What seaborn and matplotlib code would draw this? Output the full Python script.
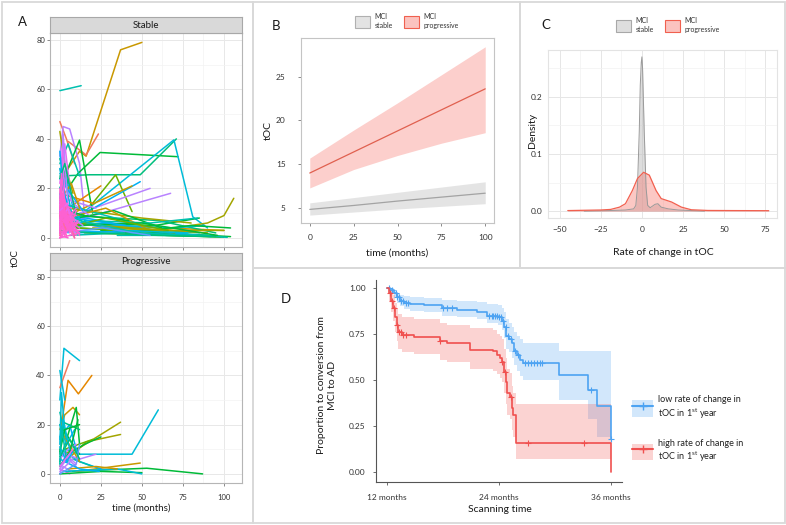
import numpy as np
import pandas as pd
import matplotlib.pyplot as plt
import seaborn as sns
from matplotlib.patches import Patch, Rectangle
from matplotlib.lines import Line2D

# ---------------- Panel A: individual tOC trajectories ----------------
# (time in months, tOC, colour key) per subject
stable_time = [
    [0, 13], [2, 12, 16, 37, 50], [0, 4, 9], [5, 16, 23.5], [0, 2, 6, 12, 15],
    [0, 3, 8], [5, 11, 24.5, 72], [0, 18, 49, 71], [3, 12, 69.5, 81, 90], [20, 34, 44],
    [60, 90, 100, 106], [10, 67.5], [12, 55], [10, 49], [5, 25],
    [8, 44], [0, 12, 20], [0, 5, 12], [0, 4, 8, 14], [0, 3, 7],
    [12, 58, 85], [20, 85], [5, 90], [10, 104], [15, 98],
    [30, 100], [8, 60, 95], [2, 70, 88], [0, 40, 75], [5, 50, 80],
    [3, 33, 62], [0, 45], [0, 20], [4, 28, 52], [0, 8, 18],
    [0, 30, 58], [25, 65, 100], [10, 55, 92], [6, 38, 82], [0, 24, 70],
    [0, 15, 42], [0, 10, 30], [2, 22], [0, 6], [0, 14],
    [0, 5], [35, 88, 102], [0, 7, 12], [0, 12, 35], [0, 2],
    [0, 3, 8], [0, 5], [40, 80, 104], [20, 70, 100], [15, 55, 84],
    [0, 2, 5], [0, 1.5, 4],
    [0, 20, 60, 95], [5, 45, 90], [0, 35, 78], [10, 50, 96], [0, 18, 40], [3, 28, 66],
    [0, 12, 48], [0, 26, 55], [0, 4, 12], [0, 2, 6], [0, 3, 10], [0, 6, 14],
    [0, 6], [0, 4, 10], [0, 3], [0, 8], [0, 5, 12], [0, 2, 7], [0, 9], [0, 6], [0, 4],
    [0, 11], [0, 3, 6], [0, 7], [0, 5], [0, 10], [0, 2], [0, 12], [0, 8], [0, 4, 8],
    [0, 12], [0, 1, 5], [0, 6, 10], [0, 3, 9], [0, 7, 11], [0, 2, 5], [0, 10], [0, 6], [0, 4],
    [0, 3], [0, 8], [0, 5, 9], [0, 2], [0, 6, 12], [0, 4], [0, 10], [0, 3, 7],
    [0, 9], [0, 1, 4], [0, 11], [0, 5], [0, 7], [0, 2, 8], [0, 12], [0, 6],
]
stable_toc = [
    [59.5, 61.5], [25, 35, 33, 76, 79], [47, 40, 30], [39, 33.5, 42], [33, 45, 44, 30, 10],
    [43, 30, 18], [20, 26, 34.5, 32.8], [25, 25.5, 25.5, 40], [5, 9, 39.6, 8.5, 4], [14, 25.5, 10.6],
    [3, 6, 9, 16], [7, 18], [10, 20], [8, 22.7], [12, 21],
    [10, 21], [20, 39.5, 10], [30, 38, 25], [20, 25, 12, 6], [22, 38, 15],
    [6, 5, 8], [5, 2], [3, 1], [4, 0.5], [2, 0.4],
    [5, 3], [9, 7, 2], [6, 4, 5], [10, 5, 1], [12, 8, 6],
    [7, 11, 4], [14, 6], [18, 14], [8, 12, 4], [28, 14, 9],
    [4, 6, 3], [3, 1, 0.3], [2, 3, 0.5], [1, 2, 1], [6, 5, 2],
    [12, 9, 7], [9, 6, 4], [16, 12], [26, 20], [24, 11],
    [32, 22], [1, 1, 0.2], [15, 22, 12], [5, 4, 3], [10, 16],
    [16, 24, 7], [18, 2], [2, 5, 4], [4, 3, 3], [7, 6, 8],
    [10, 42, 12], [8, 36, 6],
    [3, 2, 1, 0.5], [6, 4, 2], [8, 3, 2], [5, 6, 1], [9, 7, 5], [4, 8, 3],
    [11, 7, 2], [2, 4, 1], [28, 12, 8], [35, 20, 10], [24, 30, 9], [17, 9, 5],
    [12, 3], [8, 14, 5], [20, 6], [3, 10], [15, 5, 2], [5, 18, 4], [10, 0], [0, 8], [6, 1],
    [2, 6], [11, 2, 9], [14, 12], [1, 0], [7, 1], [3, 12], [4, 3], [18, 7], [2, 9, 1],
    [0, 2], [9, 26, 3], [6, 4, 11], [1, 13, 0], [9, 3, 7], [13, 4, 8], [11, 9], [5, 5], [16, 9],
    [4, 15], [12, 6], [7, 12, 2], [17, 8], [3, 8, 1], [9, 3], [5, 12], [8, 1, 6],
    [14, 4], [2, 20, 5], [8, 2], [11, 14], [0, 5], [6, 10, 3], [10, 4], [19, 2],
]
stable_col = [
    'teal', 'gold', 'red', 'red', 'purple',
    'olive', 'green', 'seagreen', 'cyan', 'lime',
    'olive', 'purple', 'purple', 'blue', 'orange',
    'gold', 'green', 'teal', 'blue', 'magenta',
    'green', 'teal', 'blue', 'green', 'lime',
    'gold', 'seagreen', 'cyan', 'blue', 'olive',
    'green', 'teal', 'orange', 'gold', 'purple',
    'cyan', 'green', 'blue', 'teal', 'lime',
    'green', 'magenta', 'purple', 'cyan', 'blue',
    'seagreen', 'teal', 'gold', 'lime', 'orange',
    'cyan', 'blue', 'green', 'olive', 'teal',
    'purple', 'magenta',
    'seagreen', 'olive', 'cyan', 'green', 'blue', 'lime',
    'teal', 'periwinkle', 'cyan', 'blue', 'seagreen', 'purple',
    'pink', 'pink', 'pink', 'pink', 'magenta', 'pink', 'pink', 'pink', 'rose',
    'pink', 'pink', 'pink', 'pink', 'pink', 'magenta', 'pink', 'pink', 'pink',
    'pink', 'pink', 'pink', 'rose', 'pink', 'pink', 'pink', 'magenta', 'pink',
    'pink', 'pink', 'magenta', 'pink', 'pink', 'rose', 'pink', 'pink',
    'pink', 'pink', 'pink', 'magenta', 'pink', 'pink', 'pink', 'pink',
]

prog_time = [
    [0, 2.5, 12], [0, 6], [1, 5, 11.3, 19.5], [0, 3, 8, 12], [2, 13, 37],
    [5, 16, 37], [3, 12, 44, 60], [5, 53, 87], [10, 49], [0, 10, 12],
    [0, 12], [5, 15, 25], [3, 20], [0, 4, 9], [0, 6, 12],
    [0, 3], [0, 12, 25], [0, 8, 20], [0, 5, 10], [0, 4, 12, 22],
    [0, 2, 7], [0, 6], [0, 10], [0, 25, 50], [2, 35, 50],
    [5, 22, 35], [2, 12], [0, 1, 3], [0, 2, 12], [0, 6, 11],
    [0, 4], [0, 12, 24], [0, 8], [0, 10, 12],
    [0, 2, 6], [0, 3, 12], [0, 5, 10], [0, 4, 8], [0, 6, 12], [0, 1, 4], [0, 8],
]
prog_toc = [
    [30, 51, 46], [35, 46], [20, 38, 32.5, 40], [18, 24, 27, 24], [8, 11, 21],
    [6, 13, 16], [10, 8, 8, 26], [1, 2.3, 0], [1, 4.4], [5, 27, 12],
    [20, 8], [8, 12, 15], [10, 14], [20, 12, 18], [15, 20, 5],
    [42, 30], [10, 5, 2], [4, 6, 3], [6, 10, 12], [3, 8, 6, 8],
    [0, 3, 1], [2, 0], [9, 3], [0, 1, 0.5], [1, 2, 0],
    [2, 3, 2], [16, 5], [12, 33, 18], [8, 21, 18], [3, 9, 22],
    [25, 14], [6, 2, 1], [1, 6], [0, 4, 12],
    [14, 22, 10], [9, 18, 20], [2, 7, 4], [11, 5, 9], [7, 14, 6], [4, 19, 6], [3, 10],
]
prog_col = [
    'cyan', 'red', 'orange', 'gold', 'olive',
    'olive', 'cyan', 'green', 'gold', 'green',
    'green', 'green', 'lime', 'cyan', 'blue',
    'cyan', 'blue', 'teal', 'purple', 'purple',
    'purple', 'magenta', 'purple', 'green', 'cyan',
    'gold', 'gold', 'cyan', 'seagreen', 'green',
    'teal', 'blue', 'purple', 'periwinkle',
    'cyan', 'green', 'purple', 'blue', 'seagreen', 'teal', 'magenta',
]

# ---------------- Panel B: fitted trajectories ----------------
fit_time = [0, 25, 50, 75, 100]
stable_fit = [9.85, 10.3, 10.8, 11.25, 11.7]
stable_lo = [9.2, 9.55, 9.9, 10.2, 10.5]
stable_hi = [10.6, 11.2, 11.8, 12.4, 13.0]
prog_fit = [14.0, 16.4, 18.8, 21.2, 23.6]
prog_lo = [12.3, 14.4, 16.0, 17.4, 18.6]
prog_hi = [15.7, 18.9, 22.0, 25.2, 28.4]
b_ytick_pos = [10, 15, 20, 25]
b_ytick_lab = ['5', '15', '20', '25']

# ---------------- Panel C: density of rate of change ----------------
dens_x_stable = [-35, -20, -10, -5, -3.7, -2.7, -1.6, -1.0, -0.4, 0, 0.4, 1.4, 2.5, 3.5,
                 5, 8, 9.7, 11.7, 16, 22, 30, 38]
dens_y_stable = [0, 0.001, 0.002, 0.004, 0.010, 0.042, 0.14, 0.22, 0.26, 0.27, 0.25, 0.14, 0.042, 0.010,
                 0.006, 0.012, 0.013, 0.007, 0.004, 0.002, 0.001, 0]
dens_x_prog = [-45, -35, -25, -19, -13.6, -10, -5.8, -2.7, 1, 4.5, 8.6, 11.7, 18, 24, 30, 40, 55, 77]
dens_y_prog = [0.001, 0.0015, 0.002, 0.003, 0.007, 0.013, 0.036, 0.057, 0.068, 0.063, 0.036, 0.022,
               0.016, 0.007, 0.0024, 0.0012, 0.001, 0.0008]

# ---------------- Panel D: Kaplan-Meier curves ----------------
low_t = [12, 12.3, 12.7, 13.0, 13.4, 13.8, 14.5, 16.0, 17.9, 19.5, 21.6, 22.7, 23.9, 24.3, 24.5,
         24.8, 25.1, 25.4, 25.6, 25.9, 26.3, 26.6, 30.4, 33.6, 34.5, 36.0]
low_s = [1.00, 0.99, 0.97, 0.95, 0.93, 0.92, 0.91, 0.905, 0.89, 0.88, 0.87, 0.85, 0.843, 0.82, 0.79,
         0.74, 0.72, 0.70, 0.66, 0.635, 0.61, 0.59, 0.527, 0.446, 0.361, 0.18]
low_hi = [1.00, 1.00, 0.99, 0.975, 0.96, 0.955, 0.95, 0.945, 0.935, 0.93, 0.925, 0.91, 0.905, 0.89, 0.87,
          0.83, 0.81, 0.79, 0.76, 0.74, 0.72, 0.70, 0.66, 0.66, 0.66, 0.82]
low_lo = [1.00, 0.97, 0.95, 0.92, 0.90, 0.885, 0.875, 0.87, 0.85, 0.84, 0.83, 0.81, 0.80, 0.77, 0.73,
          0.67, 0.65, 0.62, 0.58, 0.55, 0.52, 0.50, 0.39, 0.29, 0.19, 0.18]
low_cens = [12.2, 12.5, 12.9, 13.1, 13.3, 13.5, 13.7, 14.0, 14.2, 18.0, 18.4, 19.0, 22.9, 23.2, 23.4,
            23.6, 23.8, 24.0, 24.2, 24.4, 24.7, 25.0, 25.3, 25.7, 26.0, 26.8, 27.1, 27.4, 27.8, 28.1,
            28.4, 28.6, 33.9, 36.0]

high_t = [12, 12.2, 12.4, 12.6, 12.8, 13.0, 13.2, 13.6, 14.9, 17.7, 18.4, 20.9, 23.4, 23.8, 24.1,
          24.3, 24.5, 24.7, 24.85, 25.2, 25.4, 25.55, 25.8, 36.0]
high_s = [1.00, 0.97, 0.93, 0.89, 0.84, 0.80, 0.76, 0.743, 0.735, 0.711, 0.70, 0.662, 0.657, 0.635, 0.62,
          0.60, 0.545, 0.49, 0.428, 0.41, 0.347, 0.31, 0.157, 0.0]
high_hi = [1.00, 1.00, 0.99, 0.96, 0.92, 0.89, 0.86, 0.84, 0.83, 0.81, 0.80, 0.78, 0.77, 0.75, 0.74,
           0.72, 0.67, 0.62, 0.56, 0.54, 0.47, 0.43, 0.37, 0.37]
high_lo = [1.00, 0.93, 0.87, 0.82, 0.76, 0.71, 0.67, 0.65, 0.64, 0.61, 0.60, 0.56, 0.55, 0.53, 0.51,
           0.49, 0.43, 0.37, 0.31, 0.29, 0.23, 0.19, 0.07, 0.0]
high_cens = [12.3, 12.5, 12.7, 13.0, 13.3, 13.5, 13.7, 14.0, 17.7, 24.3, 24.6, 25.3, 27.1, 33.1]

# ---------------- style ----------------
sns.set_theme(style='white')
plt.rcParams['font.family'] = ['Lato', 'DejaVu Sans']
plt.rcParams['mathtext.fontset'] = 'custom'
plt.rcParams['mathtext.rm'] = 'Lato'
plt.rcParams['text.color'] = '#1a1a1a'

hue = {'red': '#F07A5A', 'orange': '#E58700', 'gold': '#C99800', 'olive': '#A3A500',
       'lime': '#6BB100', 'green': '#00BA38', 'seagreen': '#00BF7D', 'teal': '#00C0AF',
       'cyan': '#00BCD8', 'blue': '#00B0F6', 'periwinkle': '#619CFF', 'purple': '#B983FF',
       'magenta': '#E76BF3', 'pink': '#FD61D1', 'rose': '#FF67A4'}

W, H = 786, 525
fig = plt.figure(figsize=(W / 100, H / 100), dpi=100)


def px_axes(x0, y0, x1, y1):
    return fig.add_axes([x0 / W, 1 - y1 / H, (x1 - x0) / W, (y1 - y0) / H])


def ftext(x, y, s, **kw):
    kw.setdefault('ha', 'center')
    kw.setdefault('va', 'center')
    fig.text(x / W, 1 - y / H, s, **kw)


# panel frames
for x0, y0, x1, y1 in [(2, 2, 253, 523), (253, 2, 520, 268), (520, 2, 785, 268), (253, 268, 785, 523)]:
    fig.add_artist(Rectangle((x0 / W, 1 - y1 / H), (x1 - x0) / W, (y1 - y0) / H,
                             transform=fig.transFigure, fill=False, ec='#d9d9d9', lw=1.3))


# ---------------- Panel A ----------------
def spaghetti(ax, times, vals, cols):
    rows = []
    for i, (t, v) in enumerate(zip(times, vals)):
        for tt, vv in zip(t, v):
            rows.append((i, tt, vv))
    df = pd.DataFrame(rows, columns=['id', 'time', 'toc'])
    pal = {i: hue[c] for i, c in enumerate(cols)}
    sns.lineplot(data=df, x='time', y='toc', hue='id', units='id', estimator=None,
                 palette=pal, hue_order=list(range(len(cols))), legend=False, lw=1.1, ax=ax)
    ax.set_xlim(-6, 111)
    ax.set_ylim(-3.7, 82.8)
    ax.set_xticks([0, 25, 50, 75, 100])
    ax.set_yticks([0, 20, 40, 60, 80])
    ax.set_xticks(np.arange(12.5, 111, 25), minor=True)
    ax.set_yticks([10, 30, 50, 70], minor=True)
    ax.grid(True, which='major', color='#e8e8e8', lw=0.7)
    ax.grid(True, which='minor', color='#f3f3f3', lw=0.5)
    ax.set_axisbelow(True)
    ax.set_xlabel('')
    ax.set_ylabel('')
    for s in ax.spines.values():
        s.set_color('#b5b5b5')
        s.set_linewidth(0.8)
    ax.tick_params(which='major', length=2, width=0.6, color='#777777', labelsize=5.5,
                   labelcolor='#333333', left=True, bottom=True)
    ax.tick_params(which='minor', length=0)
    ax.tick_params(axis='y', pad=1.5)
    ax.tick_params(axis='x', pad=6)


def strip(x0, y0, x1, y1, label):
    sa = px_axes(x0, y0, x1, y1)
    sa.set_facecolor('#d9d9d9')
    sa.set_xticks([])
    sa.set_yticks([])
    for s in sa.spines.values():
        s.set_color('#a8a8a8')
        s.set_linewidth(0.8)
    sa.text(0.5, 0.5, label, ha='center', va='center', fontsize=7, transform=sa.transAxes)


axA1 = px_axes(50, 33, 242, 247)
spaghetti(axA1, stable_time, stable_toc, stable_col)
axA1.tick_params(axis='x', labelbottom=False)
strip(50, 17, 242, 33, 'Stable')

axA2 = px_axes(50, 270, 242, 483)
spaghetti(axA2, prog_time, prog_toc, prog_col)
strip(50, 253, 242, 270, 'Progressive')

ftext(141, 508, 'time (months)', fontsize=7)
ftext(15, 258, 'tOC', fontsize=7, rotation=90)
ftext(22, 22, 'A', fontsize=9.5)

# ---------------- Panel B ----------------
axB = px_axes(301, 38, 494, 223)
axB.fill_between(fit_time, stable_lo, stable_hi, color='#cfcfcf', alpha=0.55, lw=0)
axB.fill_between(fit_time, prog_lo, prog_hi, color='#F8766D', alpha=0.35, lw=0)
sns.lineplot(x=fit_time, y=stable_fit, color='#a3a3a3', lw=0.9, ax=axB)
sns.lineplot(x=fit_time, y=prog_fit, color='#e0604f', lw=0.9, ax=axB)
axB.set_xlim(-5, 105)
axB.set_ylim(8.3, 29.4)
axB.set_xticks([0, 25, 50, 75, 100])
axB.set_yticks(b_ytick_pos)
axB.set_yticklabels(b_ytick_lab)
for s in axB.spines.values():
    s.set_color('#c4c4c4')
    s.set_linewidth(0.8)
axB.tick_params(length=2, width=0.6, color='#777777', labelsize=6, labelcolor='#333333',
                left=True, bottom=True)
axB.tick_params(axis='x', pad=6)
axB.tick_params(axis='y', pad=9)
ftext(397, 253, 'time (months)', fontsize=7.5)
ftext(268, 130, 'tOC', fontsize=7.5, rotation=90)
ftext(276, 26, 'B', fontsize=9.5)

leg_handles_b = [Patch(facecolor='#e3e3e3', edgecolor='#b0b0b0', lw=0.8),
                 Patch(facecolor='#fbc3bf', edgecolor='#f0604f', lw=0.8)]
axB.legend(leg_handles_b, ['MCI\nstable', 'MCI\nprogressive'], loc='center', ncol=2,
           bbox_to_anchor=(407 / W, 1 - 21 / H), bbox_transform=fig.transFigure, frameon=False,
           fontsize=5, handlelength=2.2, handleheight=2.2, handletextpad=0.6, columnspacing=1.6,
           labelcolor='#333333')

# ---------------- Panel C ----------------
axC = px_axes(548, 50, 777, 218)
axC.fill_between(dens_x_stable, 0, dens_y_stable, color='#bdbdbd', alpha=0.5, lw=0)
axC.fill_between(dens_x_prog, 0, dens_y_prog, color='#F8766D', alpha=0.4, lw=0)
sns.lineplot(x=dens_x_stable, y=dens_y_stable, color='#9a9a9a', lw=0.7, ax=axC)
sns.lineplot(x=dens_x_prog, y=dens_y_prog, color='#f2604f', lw=0.9, ax=axC)
axC.set_xlim(-57, 82)
axC.set_ylim(-0.012, 0.282)
axC.set_xticks([-50, -25, 0, 25, 50, 75])
axC.set_yticks([0, 0.1, 0.2])
axC.set_yticklabels(['0.0', '0.1', '0.2'])
axC.set_xticks([-37.5, -12.5, 12.5, 37.5, 62.5], minor=True)
axC.set_yticks([0.05, 0.15, 0.25], minor=True)
axC.grid(True, which='major', color='#e6e6e6', lw=0.7)
axC.grid(True, which='minor', color='#f2f2f2', lw=0.5)
axC.set_axisbelow(True)
for s in axC.spines.values():
    s.set_color('#e3e3e3')
    s.set_linewidth(0.8)
axC.tick_params(which='both', length=0, labelsize=6, labelcolor='#333333')
axC.tick_params(axis='x', pad=6)
axC.tick_params(axis='y', pad=4)
ftext(663, 253, 'Rate of change in tOC', fontsize=7.5)
ftext(532, 130, 'Density', fontsize=7.5, rotation=90)
ftext(546, 25, 'C', fontsize=9.5)

leg_handles_c = [Patch(facecolor='#dedede', edgecolor='#a8a8a8', lw=0.8),
                 Patch(facecolor='#fbc3bf', edgecolor='#f0604f', lw=0.8)]
axC.legend(leg_handles_c, ['MCI\nstable', 'MCI\nprogressive'], loc='center', ncol=2,
           bbox_to_anchor=(668 / W, 1 - 25 / H), bbox_transform=fig.transFigure, frameon=False,
           fontsize=5, handlelength=2.2, handleheight=2.2, handletextpad=0.6, columnspacing=1.6,
           labelcolor='#333333')

# ---------------- Panel D ----------------
blue, red = '#4da3f2', '#f0504f'
axD = px_axes(376, 280, 622, 482)
for t, s, lo, hi, c, cens in [(low_t, low_s, low_lo, low_hi, blue, low_cens),
                              (high_t, high_s, high_lo, high_hi, red, high_cens)]:
    axD.fill_between(t, lo, hi, step='post', color=c, alpha=0.25, lw=0)
    axD.step(t, s, where='post', color=c, lw=1.2)
    idx = np.searchsorted(t, cens, side='right') - 1
    axD.plot(cens, np.array(s)[idx], ls='none', marker='+', ms=4, mew=0.8, color=c)
axD.set_xlim(10.8, 37.2)
axD.set_ylim(-0.054, 1.043)
axD.set_xticks([12, 24, 36])
axD.set_xticklabels(['12 months', '24 months', '36 months'])
axD.set_yticks([0, 0.25, 0.5, 0.75, 1.0])
axD.set_yticklabels(['0.00', '0.25', '0.50', '0.75', '1.00'])
for side in ['top', 'right']:
    axD.spines[side].set_visible(False)
for side in ['left', 'bottom']:
    axD.spines[side].set_color('#555555')
    axD.spines[side].set_linewidth(0.8)
axD.tick_params(length=2.5, width=0.6, color='#555555', labelsize=6, labelcolor='#333333',
                left=True, bottom=True)
axD.tick_params(axis='x', pad=6)
axD.tick_params(axis='y', pad=5)
ftext(500, 510, 'Scanning time', fontsize=7.5)
ftext(327, 385, 'Proportion to conversion from\nMCI to AD', fontsize=7.5, rotation=90,
      linespacing=1.35)
ftext(286, 299, 'D', fontsize=9.5)

h_low = (Patch(facecolor=blue, alpha=0.25, lw=0),
         Line2D([], [], color=blue, lw=1.5, marker='+', ms=6, mew=1))
h_high = (Patch(facecolor=red, alpha=0.25, lw=0),
          Line2D([], [], color=red, lw=1.5, marker='+', ms=6, mew=1))
axD.legend([h_low, h_high],
           ['low rate of change in\ntOC in 1$^{\\rm st}$ year',
            'high rate of change in\ntOC in 1$^{\\rm st}$ year'],
           loc='upper left', bbox_to_anchor=(624 / W, 1 - 387 / H), bbox_transform=fig.transFigure,
           frameon=False, fontsize=6.5, handlelength=2.3, handleheight=2.4, handletextpad=0.6,
           labelspacing=2.0, labelcolor='#222222')

fig.savefig('out.png', dpi=100)
